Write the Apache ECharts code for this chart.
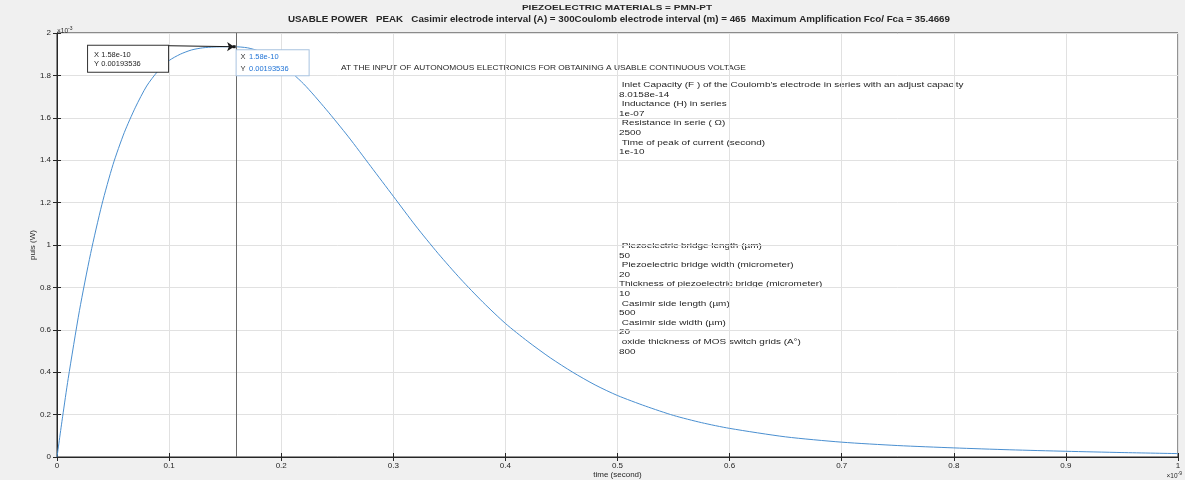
<!DOCTYPE html>
<html>
<head>
<meta charset="utf-8">
<script src="https://cdn.jsdelivr.net/npm/echarts@6/dist/echarts.min.js"></script>
<style>
html,body{margin:0;padding:0;background:#f0f0f0;}
#chart{width:1185px;height:480px;}
</style>
</head>
<body>
<div id="chart"></div>
<script>
// time in units of 1e-9 s
const timeNs = [0, 0.005, 0.01, 0.02, 0.03, 0.04, 0.05, 0.06, 0.07, 0.08, 0.09, 0.10, 0.11, 0.12, 0.13, 0.14, 0.15, 0.158,
  0.17, 0.18, 0.19, 0.20, 0.22, 0.24, 0.26, 0.28, 0.30, 0.32, 0.34, 0.36, 0.38, 0.40, 0.42, 0.44, 0.46, 0.48, 0.50,
  0.525, 0.55, 0.575, 0.60, 0.65, 0.70, 0.75, 0.80, 0.85, 0.90, 0.95, 1.00];
// usable power in units of 1e-3 W
const powerMW = [0, 0.19, 0.37, 0.69, 0.96, 1.19, 1.38, 1.53, 1.65, 1.75, 1.82, 1.87, 1.90, 1.92, 1.93, 1.934, 1.935, 1.93536,
  1.93, 1.915, 1.89, 1.855, 1.76, 1.64, 1.51, 1.37, 1.23, 1.09, 0.96, 0.84, 0.73, 0.63, 0.545, 0.468, 0.40, 0.34, 0.29,
  0.24, 0.196, 0.162, 0.135, 0.095, 0.070, 0.054, 0.043, 0.034, 0.027, 0.021, 0.016];

// data tip on the peak
const tipX = 0.158;
const tipY = 1.93536;

const titleLine1 = 'PIEZOELECTRIC MATERIALS = PMN-PT';
const titleLine2 = 'USABLE POWER   PEAK   Casimir electrode interval (A) = 300Coulomb electrode interval (m) = 465  Maximum Amplification Fco/ Fca = 35.4669';
const headline = 'AT THE INPUT OF AUTONOMOUS ELECTRONICS FOR OBTAINING A USABLE CONTINUOUS VOLTAGE';
const circuitNotes = [
  ' Inlet Capacity (F ) of the Coulomb\'s electrode in series with an adjust capacity',
  '8.0158e-14',
  ' Inductance (H) in series',
  '1e-07',
  ' Resistance in serie ( \u03A9)',
  '2500',
  ' Time of peak of current (second)',
  '1e-10'
];
const geometryNotes = [
  ' Piezoelectric bridge length (\u00B5m)',
  '50',
  ' Piezoelectric bridge width (micrometer)',
  '20',
  'Thickness of piezoelectric bridge (micrometer)',
  '10',
  ' Casimir side length (\u00B5m)',
  '500',
  ' Casimir side width (\u00B5m)',
  '20',
  ' oxide thickness of MOS switch grids (A\u00B0)',
  '800'
];

const FONT = '"Liberation Sans", Arial, Helvetica, sans-serif';
const INK = '#262626';

const seriesData = timeNs.map((t, i) => [t, powerMW[i]]);
const tipXText = 'X ' + (tipX * 1e-9).toExponential(2);
const tipYText = 'Y ' + (tipY * 1e-3).toFixed(8);

const chart = echarts.init(document.getElementById('chart'), null, {renderer: 'canvas'});

const tickFmt = v => (v === 0 ? '0' : (Math.abs(v - Math.round(v)) < 1e-9 ? String(Math.round(v)) : v.toFixed(1)));

const axisCommon = {
  axisLine: {show: true, lineStyle: {color: INK, width: 1}},
  axisTick: {show: true, inside: true, length: 4, lineStyle: {color: INK}},
  splitLine: {show: true, lineStyle: {color: '#e1e1e1', width: 1}},
  axisLabel: {color: INK, fontFamily: FONT, fontSize: 8, formatter: tickFmt}
};

chart.setOption({
  animation: false,
  backgroundColor: '#f0f0f0',
  textStyle: {fontFamily: FONT},
  grid: {left: 57, right: 7, top: 33, bottom: 23, outerBoundsMode: 'none', containLabel: false,
         show: true, backgroundColor: '#ffffff', borderColor: INK, borderWidth: 1},
  xAxis: [
    Object.assign({}, axisCommon, {
      type: 'value', min: 0, max: 1, interval: 0.1,
      axisLabel: Object.assign({}, axisCommon.axisLabel, {margin: 5}),
      name: 'time (second)', nameLocation: 'middle', nameGap: 14, nameMoveOverlap: false,
      nameTextStyle: {color: INK, fontFamily: FONT, fontSize: 8}
    }),
    {type: 'value', position: 'top', min: 0, max: 1, interval: 0.1,
     axisLine: {show: true, lineStyle: {color: INK}},
     axisTick: {show: true, inside: true, length: 4, lineStyle: {color: INK}},
     axisLabel: {show: false}, splitLine: {show: false}}
  ],
  yAxis: [
    Object.assign({}, axisCommon, {
      type: 'value', min: 0, max: 2, interval: 0.2,
      axisLabel: Object.assign({}, axisCommon.axisLabel, {margin: 6}),
      name: 'puis (W)', nameLocation: 'middle', nameGap: 20, nameRotate: 90, nameMoveOverlap: false,
      nameTextStyle: {color: INK, fontFamily: FONT, fontSize: 8}
    }),
    {type: 'value', position: 'right', min: 0, max: 2, interval: 0.2,
     axisLine: {show: true, lineStyle: {color: INK}},
     axisTick: {show: true, inside: true, length: 4, lineStyle: {color: INK}},
     axisLabel: {show: false}, splitLine: {show: false}}
  ],
  series: [{
    type: 'line',
    data: seriesData,
    showSymbol: false,
    smooth: 0.25,
    lineStyle: {color: '#4a8fd0', width: 1},
    markLine: {
      silent: true,
      symbol: ['none', 'none'],
      label: {show: false},
      data: [
        {xAxis: tipX, lineStyle: {color: '#6a6a6a', width: 1, type: 'solid'}},
        [
          {coord: [0.099, 1.94], symbol: 'none', lineStyle: {color: '#1a1a1a', width: 1, type: 'solid'}},
          {coord: [tipX, tipY], symbol: 'arrow', symbolSize: 7}
        ]
      ]
    },
    markPoint: {
      silent: true,
      data: [
        {
          coord: [tipX, tipY], symbol: 'rect', symbolSize: 3,
          itemStyle: {color: '#1a1a1a'},
          label: {
            show: true, position: [4, 5],
            backgroundColor: '#ffffff', borderColor: '#a9c3e0', borderWidth: 1,
            padding: [1, 4, 0, 4], width: 64,
            formatter: '{k|X} {v|' + tipXText.slice(2) + '}\n{k|Y} {v|' + tipYText.slice(2) + '}',
            rich: {
              k: {color: '#333333', fontFamily: FONT, fontSize: 7.5, lineHeight: 9},
              v: {color: '#1f73d6', fontFamily: FONT, fontSize: 7.5, lineHeight: 9}
            }
          }
        },
        {
          coord: [0.0277, 1.94], symbol: 'rect', symbolSize: 0,
          label: {
            show: true, position: [0, 0],
            backgroundColor: '#ffffff', borderColor: '#333333', borderWidth: 1,
            padding: [4, 6, 3, 6], width: 68,
            color: INK, fontFamily: FONT, fontSize: 7.5, lineHeight: 9.5,
            formatter: tipXText + '\n' + tipYText
          }
        }
      ]
    }
  }],
  graphic: [
    {type: 'text', x: 617, y: 4, scaleX: 1.25,
     style: {text: titleLine1, font: 'bold 8px ' + FONT, fill: INK, align: 'center'}},
    {type: 'text', x: 619, y: 15, scaleX: 1.15,
     style: {text: titleLine2, font: 'bold 8.5px ' + FONT, fill: INK, align: 'center'}},
    {type: 'text', x: 57, y: 26,
     style: {rich: {b: {font: '6.5px ' + FONT, fill: INK}, s: {font: '5px ' + FONT, fill: INK, padding: [0, 0, 5, 0]}},
             text: '{b|\u00D710}{s|-3}'}},
    {type: 'text', x: 1182, y: 471,
     style: {rich: {b: {font: '6.5px ' + FONT, fill: INK}, s: {font: '5px ' + FONT, fill: INK, padding: [0, 0, 5, 0]}},
             text: '{b|\u00D710}{s|-9}', align: 'right'}},
    {type: 'text', x: 341, y: 64, scaleX: 1.1,
     style: {text: headline, font: '7.6px ' + FONT, fill: INK}},
    {type: 'text', x: 619, y: 80, scaleX: 1.26,
     style: {text: circuitNotes.join('\n'), font: '7.9px ' + FONT, fill: INK, lineHeight: 9.6}},
    {type: 'text', x: 619, y: 241, scaleX: 1.26,
     style: {text: geometryNotes.join('\n'), font: '7.9px ' + FONT, fill: INK, lineHeight: 9.6}}
  ]
});
</script>
</body>
</html>
